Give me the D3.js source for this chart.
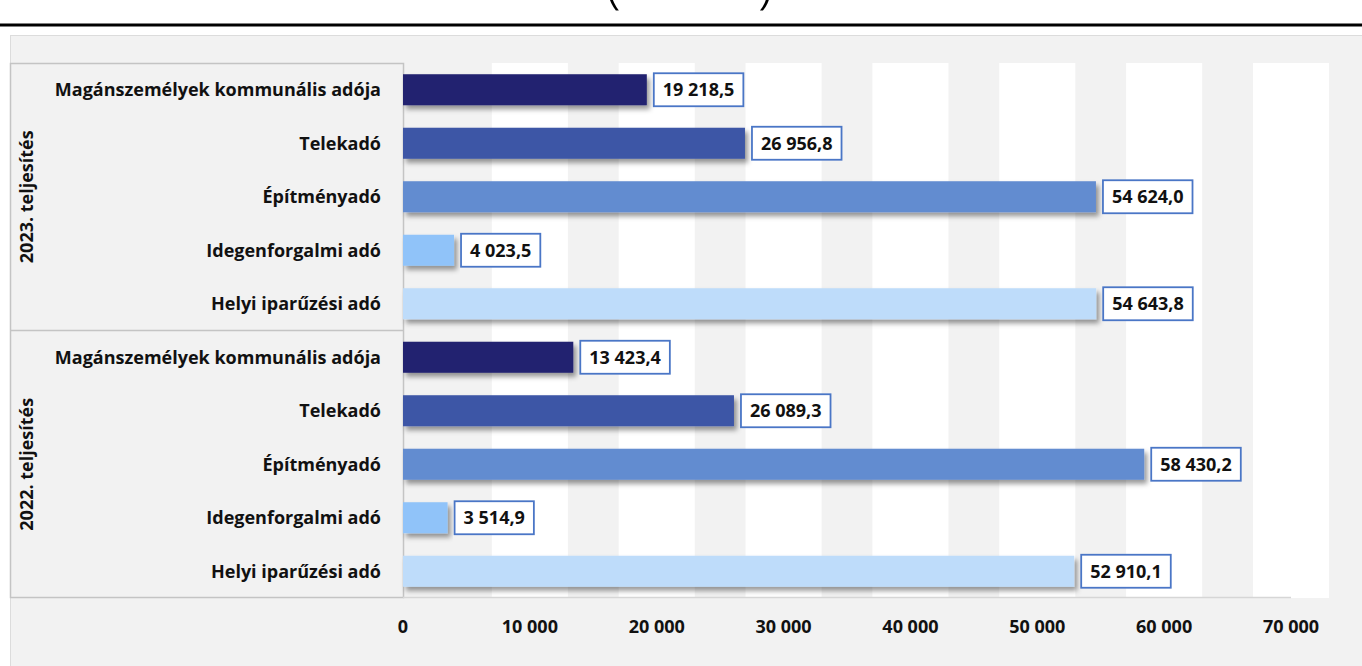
<!DOCTYPE html>
<head>
  <meta charset="utf-8">
  <script src="https://d3js.org/d3.v7.min.js"></script>
  <style>
    body { margin:0; background:#fff; }
    svg { display:block; font-family:"Open Sans", sans-serif; font-weight:700; }
  </style>
</head>

<body>
  <script>

    var groups = ["2023. teljesítés", "2022. teljesítés"]
    var categories = ["Magánszemélyek kommunális adója", "Telekadó", "Építményadó", "Idegenforgalmi adó", "Helyi iparűzési adó"]
    var values2023 = [19218.5, 26956.8, 54624.0, 4023.5, 54643.8]
    var values2022 = [13423.4, 26089.3, 58430.2, 3514.9, 52910.1]
    var colors = ["#20226f", "#3d56a6", "#628cd0", "#90c3f9", "#bedcfa"]
    var tickValues = [0, 10000, 20000, 30000, 40000, 50000, 60000, 70000]

    var W = 1362, H = 666
    var plot = {left: 403, right: 1291, top: 63, bottom: 598}

    var hu = d3.formatLocale({decimal: ",", thousands: " ", grouping: [3], currency: ["", " Ft"]})
    var fmtVal = hu.format(",.1f")
    var fmtTick = hu.format(",")

    // rows: 2023 group first, then 2022
    var rows = []
    var series = [values2023, values2022]
    groups.forEach(function(g, gi){
      categories.forEach(function(c, ci){
        rows.push({group: g, cat: c, value: series[gi][ci], color: colors[ci], key: g + "|" + c})
      })
    })

    var svg = d3.select("body").append("svg")
      .attr("width", W)
      .attr("height", H)

    var defs = svg.append("defs")
    defs.append("filter").attr("id", "shadow")
      .attr("x", "-5%").attr("y", "-30%").attr("width", "115%").attr("height", "180%")
      .append("feDropShadow")
      .attr("dx", 3).attr("dy", 4).attr("stdDeviation", 2.5)
      .attr("flood-color", "#000").attr("flood-opacity", 0.4)

    // title (only the bottom of the brackets is visible)
    svg.append("text").attr("x", 613).attr("y", 1).attr("font-size", 58)
      .attr("font-weight", 300).attr("text-anchor", "middle").text("(")
    svg.append("text").attr("x", 766).attr("y", 1).attr("font-size", 58)
      .attr("font-weight", 300).attr("text-anchor", "middle").text(")")
    svg.append("line").attr("x1", 0).attr("x2", W).attr("y1", 25).attr("y2", 25)
      .attr("stroke", "#000").attr("stroke-width", 3)

    // chart area
    svg.append("rect").attr("x", 10.5).attr("y", 35.5).attr("width", W).attr("height", H)
      .attr("fill", "#f2f2f2").attr("stroke", "#dcdcdc")

    var x = d3.scaleLinear().domain([0, 70000]).range([plot.left, plot.right])
    var y = d3.scaleBand().domain(rows.map(function(d){ return d.key }))
      .range([plot.top, plot.bottom]).paddingInner(0.42).paddingOuter(0.21)

    // white bands centred on grid values
    var bandW = 0.6 * (x(10000) - x(0))
    svg.selectAll(".band")
      .data(tickValues.slice(1))
      .enter()
      .append("rect")
      .attr("class", "band")
      .attr("x", function(d){ return x(d) - bandW / 2 })
      .attr("y", plot.top)
      .attr("width", bandW)
      .attr("height", plot.bottom - plot.top)
      .attr("fill", "#fff")

    // label panel
    svg.append("rect").attr("x", 10.5).attr("y", plot.top + 0.5)
      .attr("width", plot.left - 10).attr("height", plot.bottom - plot.top - 1)
      .attr("fill", "none").attr("stroke", "#c4c4c4").attr("stroke-width", 1.5)
    var mid = y(rows[5].key) - y.step() * y.paddingInner() / 2
    svg.append("line").attr("x1", 10).attr("x2", plot.left).attr("y1", mid).attr("y2", mid)
      .attr("stroke", "#c4c4c4").attr("stroke-width", 1.5)
    svg.append("line").attr("x1", plot.left).attr("x2", plot.right)
      .attr("y1", plot.bottom - 0.5).attr("y2", plot.bottom - 0.5)
      .attr("stroke", "#d6d6d6").attr("stroke-width", 1.5)

    // bars
    svg.selectAll(".bar")
      .data(rows)
      .enter()
      .append("rect")
      .attr("class", "bar")
      .attr("x", x(0))
      .attr("y", function(d){ return y(d.key) })
      .attr("width", function(d){ return x(d.value) - x(0) })
      .attr("height", y.bandwidth())
      .attr("fill", function(d){ return d.color })
      .attr("filter", "url(#shadow)")

    // category labels
    svg.selectAll(".cat")
      .data(rows)
      .enter()
      .append("text")
      .attr("class", "cat")
      .attr("x", 381)
      .attr("y", function(d){ return y(d.key) + y.bandwidth() / 2 })
      .attr("dy", "0.35em")
      .attr("text-anchor", "end")
      .attr("font-size", 18)
      .attr("fill", "#111")
      .text(function(d){ return d.cat })

    // group labels
    groups.forEach(function(g, gi){
      var first = y(rows[gi * 5].key), last = y(rows[gi * 5 + 4].key) + y.bandwidth()
      var cy = (first + last) / 2
      svg.append("text")
        .attr("transform", "translate(27," + cy + ") rotate(-90)")
        .attr("dy", "0.35em")
        .attr("text-anchor", "middle")
        .attr("font-size", 18)
        .attr("fill", "#111")
        .text(g)
    })

    // value labels in boxes
    var lab = svg.selectAll(".lab")
      .data(rows)
      .enter()
      .append("g")
      .attr("class", "lab")
      .attr("transform", function(d){ return "translate(" + (x(d.value) + 7) + "," + (y(d.key) + y.bandwidth() / 2) + ")" })
    var boxes = lab.append("rect")
      .attr("fill", "#fff").attr("stroke", "#4a76c6").attr("stroke-width", 1.8)
    var txt = lab.append("text")
      .attr("dy", "0.35em")
      .attr("font-size", 18)
      .attr("fill", "#111")
      .text(function(d){ return fmtVal(d.value) })
    txt.attr("x", 9)
    boxes.each(function(d, i){
      var w = txt.nodes()[i].getComputedTextLength()
      d3.select(this).attr("x", 0).attr("y", -16.5).attr("width", w + 18).attr("height", 33)
    })

    // x axis tick labels
    svg.selectAll(".tick")
      .data(tickValues)
      .enter()
      .append("text")
      .attr("class", "tick")
      .attr("x", function(d){ return x(d) })
      .attr("y", 627)
      .attr("dy", "0.35em")
      .attr("text-anchor", "middle")
      .attr("font-size", 18)
      .attr("fill", "#111")
      .text(function(d){ return fmtTick(d) })

  </script>
</body>
